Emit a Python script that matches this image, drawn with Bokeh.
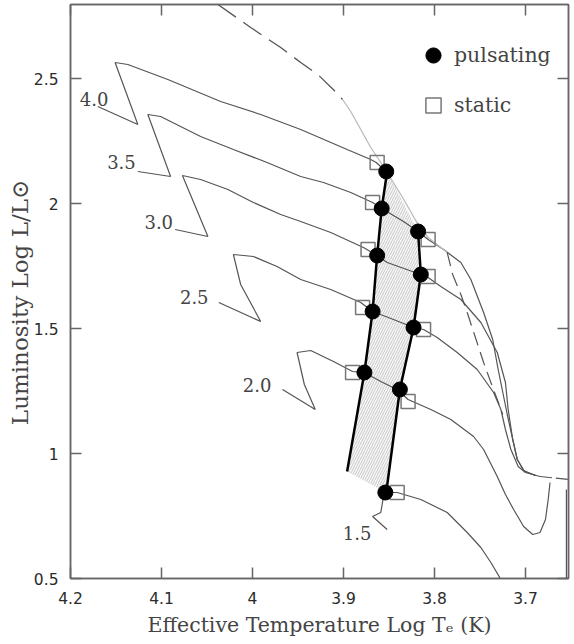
from bokeh.plotting import figure
from bokeh.models import Range1d, LinearAxis, FixedTicker, Legend, LegendItem
from bokeh.core.properties import value
from bokeh.embed import file_html
from bokeh.resources import INLINE

# ---------------- data ----------------
# evolutionary tracks, log Te vs log L/Lsun
track_40_x = [4.170, 4.126, 4.151, 4.137, 4.093, 4.035, 3.991, 3.947, 3.896, 3.870, 3.864, 3.852]
track_40_y = [2.388, 2.316, 2.564, 2.556, 2.496, 2.408, 2.356, 2.296, 2.216, 2.176, 2.164, 2.124]

track_35_x = [4.126, 4.090, 4.115, 4.101, 4.057, 4.021, 3.984, 3.947, 3.922, 3.892, 3.868, 3.858,
              3.834, 3.818, 3.807, 3.790, 3.771, 3.760, 3.746, 3.736, 3.730, 3.724, 3.720, 3.714,
              3.709, 3.702, 3.689]
track_35_y = [2.128, 2.108, 2.356, 2.348, 2.268, 2.216, 2.164, 2.108, 2.084, 2.044, 2.004, 1.980,
              1.928, 1.888, 1.856, 1.816, 1.764, 1.696, 1.564, 1.456, 1.336, 1.228, 1.156, 1.056,
              0.976, 0.932, 0.912]

track_30_x = [4.085, 4.049, 4.077, 4.057, 4.027, 3.999, 3.969, 3.947, 3.914, 3.878, 3.863, 3.852,
              3.815, 3.807, 3.793, 3.771, 3.749, 3.731, 3.722, 3.719, 3.714, 3.709, 3.701, 3.689]
track_30_y = [1.896, 1.868, 2.112, 2.096, 2.056, 2.004, 1.956, 1.928, 1.884, 1.824, 1.792, 1.764,
              1.716, 1.704, 1.668, 1.616, 1.524, 1.404, 1.284, 1.176, 1.056, 0.976, 0.928, 0.912]

track_25_x = [4.037, 3.991, 4.013, 4.021, 3.999, 3.973, 3.947, 3.914, 3.881, 3.868, 3.845, 3.823,
              3.812, 3.797, 3.775, 3.753, 3.735, 3.727, 3.722, 3.716, 3.708, 3.700, 3.684]
track_25_y = [1.604, 1.528, 1.676, 1.796, 1.788, 1.748, 1.696, 1.656, 1.604, 1.568, 1.536, 1.504,
              1.496, 1.464, 1.404, 1.336, 1.244, 1.176, 1.096, 1.016, 0.948, 0.924, 0.908]

track_20_x = [3.967, 3.931, 3.943, 3.951, 3.936, 3.911, 3.890, 3.877, 3.859, 3.841, 3.829, 3.804,
              3.782, 3.757, 3.746, 3.731, 3.722, 3.713, 3.702, 3.692, 3.684, 3.678, 3.675, 3.673]
track_20_y = [1.256, 1.176, 1.276, 1.404, 1.412, 1.368, 1.328, 1.324, 1.288, 1.256, 1.216, 1.176,
              1.136, 1.068, 1.016, 0.908, 0.836, 0.776, 0.708, 0.676, 0.684, 0.736, 0.816, 0.884]

track_15_x = [3.852, 3.868, 3.859, 3.856, 3.853, 3.841, 3.815, 3.786, 3.764, 3.749, 3.738, 3.727]
track_15_y = [0.696, 0.748, 0.764, 0.828, 0.844, 0.844, 0.816, 0.764, 0.684, 0.624, 0.564, 0.496]

# giant-branch tail and the line at the right edge
tail_x = [3.684, 3.653]
tail_y = [0.908, 0.896]
edge_x = [3.655, 3.655]
edge_y = [0.856, 0.496]

# dashed line (upper dark part, faint middle part, lower dashed part)
dash_top_x = [4.038, 4.002, 3.969, 3.947, 3.927, 3.909, 3.901]
dash_top_y = [2.796, 2.704, 2.624, 2.564, 2.512, 2.448, 2.416]
faint_x = [3.901, 3.892, 3.881, 3.870, 3.859, 3.852, 3.835, 3.820, 3.807, 3.786]
faint_y = [2.416, 2.368, 2.296, 2.224, 2.164, 2.124, 2.024, 1.928, 1.864, 1.804]
dash_low_x = [3.786, 3.780, 3.771, 3.764, 3.755, 3.746, 3.738, 3.731, 3.725]
dash_low_y = [1.804, 1.716, 1.636, 1.564, 1.464, 1.364, 1.284, 1.216, 1.156]

# instability strip edges
blue_edge_x = [3.852, 3.858, 3.863, 3.868, 3.877, 3.896]
blue_edge_y = [2.128, 1.980, 1.792, 1.568, 1.324, 0.928]
red_edge_x = [3.818, 3.815, 3.823, 3.838, 3.853]
red_edge_y = [1.888, 1.716, 1.504, 1.256, 0.844]

# pulsating and static models
puls_x = [3.853, 3.858, 3.863, 3.868, 3.877, 3.818, 3.815, 3.823, 3.838, 3.854]
puls_y = [2.128, 1.980, 1.792, 1.568, 1.324, 1.888, 1.716, 1.504, 1.256, 0.844]
stat_x = [3.863, 3.868, 3.873, 3.879, 3.890, 3.807, 3.807, 3.812, 3.829, 3.841]
stat_y = [2.164, 2.004, 1.816, 1.584, 1.324, 1.856, 1.708, 1.496, 1.208, 0.844]

# track mass labels
mass_labels = ["4.0", "3.5", "3.0", "2.5", "2.0", "1.5"]
mass_label_x = [4.174, 4.144, 4.103, 4.064, 3.995, 3.885]
mass_label_y = [2.420, 2.168, 1.928, 1.628, 1.276, 0.684]

# axis ticks
x_ticks = [4.2, 4.1, 4.0, 3.9, 3.8, 3.7]
x_tick_labels = ["4.2", "4.1", "4", "3.9", "3.8", "3.7"]
y_ticks = [0.5, 1.0, 1.5, 2.0, 2.5]
y_tick_labels = ["0.5", "1", "1.5", "2", "2.5"]

# ---------------- figure ----------------
p = figure(width=572, height=642,
           x_range=Range1d(4.2, 3.6527), y_range=Range1d(0.5, 2.796),
           output_backend="svg", toolbar_location=None,
           min_border_left=70, min_border_right=4, min_border_top=4, min_border_bottom=64)
p.xgrid.visible = False
p.ygrid.visible = False
p.outline_line_color = "#666666"
p.outline_line_width = 1.5
p.background_fill_color = "white"
p.border_fill_color = "white"

AX = "#666666"
TXT = "#444444"

def style_axis(ax, ticks, labels, show_labels):
    ax.ticker = FixedTicker(ticks=ticks)
    ax.axis_line_color = AX
    ax.axis_line_width = 1.5
    ax.major_tick_line_color = AX
    ax.major_tick_line_width = 1.5
    ax.major_tick_in = 11
    ax.major_tick_out = 0
    ax.minor_tick_line_color = None
    if show_labels:
        ax.major_label_overrides = {t: l for t, l in zip(ticks, labels)}
        ax.major_label_text_font = "DejaVu Sans"
        ax.major_label_text_font_size = "15.5px"
        ax.major_label_text_color = "#2a2a2a"
    else:
        ax.major_label_text_color = None
        ax.major_label_text_font_size = "1px"
        ax.major_label_standoff = 0

xa = p.xaxis[0]
ya = p.yaxis[0]
style_axis(xa, x_ticks, x_tick_labels, True)
style_axis(ya, y_ticks, y_tick_labels, True)
xa.major_label_standoff = 13
ya.major_label_standoff = 12
xa.axis_label = "Effective Temperature Log T\u2091 (K)"
ya.axis_label = "Luminosity Log L/L\u2299\u00a0\u00a0\u00a0"
for ax, fs, so in ((xa, "20.5px", 6), (ya, "23px", -2)):
    ax.axis_label_text_font = "DejaVu Serif"
    ax.axis_label_text_font_size = fs
    ax.axis_label_text_font_style = "normal"
    ax.axis_label_text_color = TXT
    ax.axis_label_standoff = so

top_ax = LinearAxis()
style_axis(top_ax, x_ticks, x_tick_labels, False)
p.add_layout(top_ax, "above")
right_ax = LinearAxis()
style_axis(right_ax, y_ticks, y_tick_labels, False)
p.add_layout(right_ax, "right")

# hatched instability strip
strip_x = blue_edge_x + red_edge_x[::-1]
strip_y = blue_edge_y + red_edge_y[::-1]
p.patch(strip_x, strip_y, fill_color="#f8f8f8", line_color=None,
        hatch_pattern="/", hatch_color="#bbbbbb", hatch_scale=5, hatch_weight=0.8)

TR = "#555555"
for tx, ty in ((track_40_x, track_40_y), (track_35_x, track_35_y), (track_30_x, track_30_y),
               (track_25_x, track_25_y), (track_20_x, track_20_y), (track_15_x, track_15_y)):
    p.line(tx, ty, line_color=TR, line_width=1.2)
p.line(tail_x, tail_y, line_color=TR, line_width=1.2, line_dash="12 4")
p.line(edge_x, edge_y, line_color=TR, line_width=1.2)

p.line(dash_top_x, dash_top_y, line_color=TR, line_width=1.3, line_dash="22 9")
p.line(faint_x, faint_y, line_color="#bbbbbb", line_width=1.3)
p.line(dash_low_x, dash_low_y, line_color=TR, line_width=1.2, line_dash="14 7")

# strip edges
p.line(blue_edge_x, blue_edge_y, line_color="black", line_width=2.5)
p.line(red_edge_x, red_edge_y, line_color="black", line_width=2.5)

# models
r_stat = p.scatter(stat_x, stat_y, marker="square", size=14, fill_color=None,
                   line_color="#777777", line_width=1.5)
r_puls = p.scatter(puls_x, puls_y, marker="circle", size=15, fill_color="black",
                   line_color="black")

# mass labels
p.text(x=mass_label_x, y=mass_label_y, text=mass_labels,
       text_font=value("DejaVu Serif"), text_font_size="18px", text_color=TXT,
       text_align="center", text_baseline="middle")

legend = Legend(items=[LegendItem(label="pulsating", renderers=[r_puls]),
                       LegendItem(label="static", renderers=[r_stat])],
                location=(344, 454), padding=0, spacing=12, margin=0,
                glyph_width=38, glyph_height=38, label_standoff=2,
                label_text_font="DejaVu Serif", label_text_font_size="20.5px",
                label_text_color=TXT, border_line_color=None,
                background_fill_alpha=0)
p.add_layout(legend)

open("out.html", "w").write(file_html(p, INLINE))
